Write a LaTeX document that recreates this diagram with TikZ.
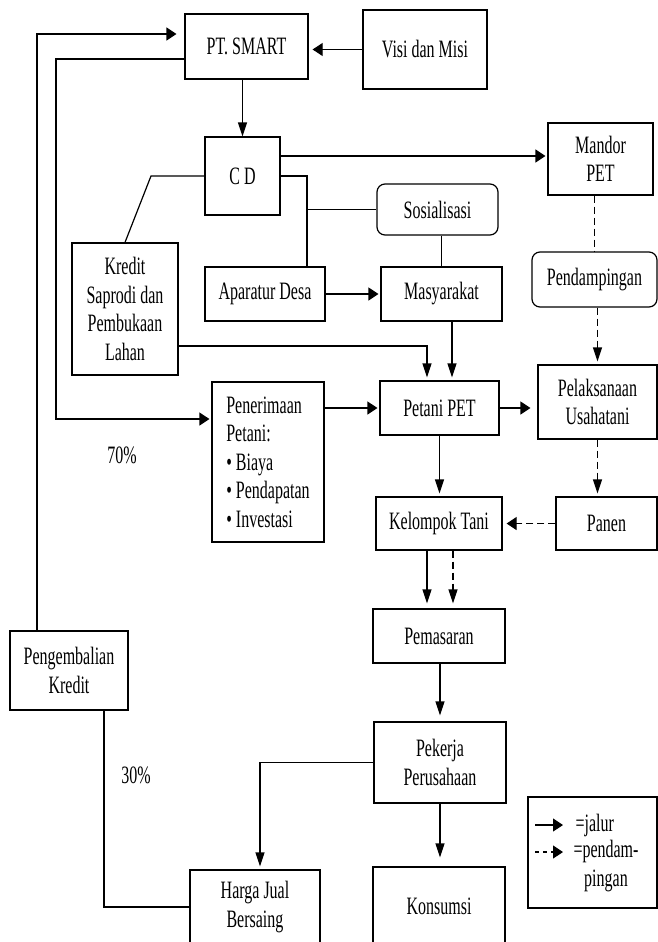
\documentclass[tikz,border=0pt]{standalone}
\usepackage{fontspec}
\setmainfont{Liberation Serif}[FakeStretch=0.64]
\usetikzlibrary{shapes,arrows.meta}
\tikzstyle{block} = [rectangle, draw, fill=white, align=center, inner sep=0pt,
    font=\fontsize{25}{28.5}\selectfont]
\tikzstyle{rblock} = [block, rounded corners=8pt]
\tikzstyle{line} = [draw, -{Triangle[length=14pt,width=9pt]}]
\tikzstyle{hline} = [draw, -{Triangle[length=10pt,width=13pt]}]
\tikzstyle{pend} = [dash pattern=on 7pt off 4pt]
\tikzstyle{note} = [inner sep=0pt, align=center, font=\fontsize{25}{28.5}\selectfont]

\begin{document}
\begin{tikzpicture}[x=1pt, y=-1pt, line width=1.2pt]
        \useasboundingbox (0,0) rectangle (658,942);
        % Place nodes
        \node [block, minimum width=123pt, minimum height=65pt] (smart) at (246.5,46.5) {PT. SMART};
        \node [block, minimum width=124pt, minimum height=79pt] (visi) at (425,49.5) {Visi dan Misi};
        \node [block, minimum width=75pt, minimum height=78pt] (cd) at (242.5,176) {C D};
        \node [block, minimum width=105pt, minimum height=72pt] (mandor) at (600.5,159) {Mandor\\PET};
        \node [rblock, minimum width=121pt, minimum height=51pt] (sosial) at (437.5,209.5) {Sosialisasi};
        \node [block, minimum width=120pt, minimum height=54pt] (aparat) at (265,294) {Aparatur Desa};
        \node [block, minimum width=121pt, minimum height=54pt] (masy) at (441.5,294) {Masyarakat};
        \node [block, minimum width=106pt, minimum height=132pt] (kredit) at (125,309) {Kredit\\Saprodi dan\\Pembukaan\\Lahan};
        \node [rblock, minimum width=125pt, minimum height=55pt] (pendamp) at (594.5,279.5) {Pendampingan};
        \node [block, minimum width=119pt, minimum height=54pt] (petani) at (439.5,408) {Petani PET};
        \node [block, align=left, minimum width=112pt, minimum height=160pt] (penerim) at (268,462)
            {Penerimaan\\Petani:\\\textbullet\ Biaya\\\textbullet\ Pendapatan\\\textbullet\ Investasi};
        \node [block, minimum width=119pt, minimum height=74pt] (pelaks) at (597.5,402) {Pelaksanaan\\Usahatani};
        \node [block, minimum width=126pt, minimum height=53pt] (kelompok) at (439,523.5) {Kelompok Tani};
        \node [block, minimum width=101pt, minimum height=53pt] (panen) at (606.5,523.5) {Panen};
        \node [block, minimum width=132pt, minimum height=54pt] (pemasaran) at (439,636) {Pemasaran};
        \node [block, minimum width=132pt, minimum height=81pt] (pekerja) at (440,762.5) {Pekerja\\Perusahaan};
        \node [block, minimum width=130pt, minimum height=74pt] (harga) at (255,907) {Harga Jual\\Bersaing};
        \node [block, minimum width=132pt, minimum height=79pt] (konsumsi) at (439,906.5) {Konsumsi};
        \node [block, minimum width=118pt, minimum height=79pt] (pengemb) at (69,670.5) {Pengembalian\\Kredit};
        \node [note] (p70) at (122,455) {70\%};
        \node [note] (p30) at (136,775) {30\%};
        \node [block, minimum width=129pt, minimum height=111pt] (legend) at (592.5,852.5) {};
        \node [note, anchor=west] (jalur) at (575,825) {=jalur};
        \node [note] (pendam) at (606,866) {=pendam-\\pingan};
        \coordinate (ja) at (535,825);
        \coordinate (jb) at (563,825);
        \coordinate (pa) at (535,852);
        \coordinate (pb) at (563,852);
        \coordinate (loop) at (56,419);
        \coordinate (kbend) at (151,176);
        % Draw edges
        \path [hline, shorten >=4pt] (visi.west) -- (visi.west -| smart.east);
        \path [line] (cd.north |- smart.south) -- (cd.north);
        \path [hline, shorten >=8pt] ([xshift=-32pt]pengemb.north) |- ([yshift=12.5pt]smart.west);
        \path [hline, shorten >=2pt] ([yshift=-12.5pt]smart.west) -| (loop) -- (loop -| penerim.west);
        \path [hline, shorten >=2pt] ([yshift=20pt]cd.east) -- ([yshift=20pt]cd.east -| mandor.west);
        \draw (cd.east) -| ([xshift=42pt]aparat.north);
        \draw ([xshift=42pt]aparat.north |- sosial.west) -- (sosial.west);
        \draw (masy.north |- sosial.south) -- (masy.north);
        \path [hline, shorten >=2pt] (aparat.east) -- (masy.west);
        \draw (cd.west) -- (kbend) -- (kredit.north);
        \path [line, shorten >=3pt] ([yshift=-37pt]kredit.east) -| ([xshift=-12.5pt]petani.north);
        \path [line, shorten >=3pt] ([xshift=12.5pt]petani.north |- masy.south) -- ([xshift=12.5pt]petani.north);
        \path [hline, shorten >=2pt] (penerim.east |- petani.west) -- (petani.west);
        \path [hline, shorten >=7pt] (petani.east) -- (petani.east -| pelaks.west);
        \draw [pend] (pendamp.north |- mandor.south) -- (pendamp.north);
        \path [line, pend, shorten >=3pt] (pelaks.north |- pendamp.south) -- (pelaks.north);
        \path [line, pend, shorten >=3pt] (pelaks.south) -- (pelaks.south |- panen.north);
        \path [hline, pend, shorten >=4pt] (panen.west) -- (kelompok.east);
        \path [line, shorten >=3pt] (petani.south) -- (petani.south |- kelompok.north);
        \path [line, shorten >=5pt] ([xshift=-12pt]kelompok.south) -- ([xshift=-12pt]kelompok.south |- pemasaran.north);
        \path [line, pend, shorten >=5pt] ([xshift=14pt]kelompok.south) -- ([xshift=14pt]kelompok.south |- pemasaran.north);
        \path [line, shorten >=6pt] (pemasaran.south -| pekerja.north) -- (pekerja.north);
        \path [line, shorten >=3pt] (pekerja.west) -| ([xshift=5pt]harga.north);
        \path [line, shorten >=9pt] (pekerja.south) -- (pekerja.south |- konsumsi.north);
        \draw ([xshift=35pt]pengemb.south) |- (harga.west);
        \path [hline] (ja) -- (jb);
        \path [hline, dash pattern=on 4pt off 4pt] (pa) -- (pb);
    \end{tikzpicture}
\end{document}
